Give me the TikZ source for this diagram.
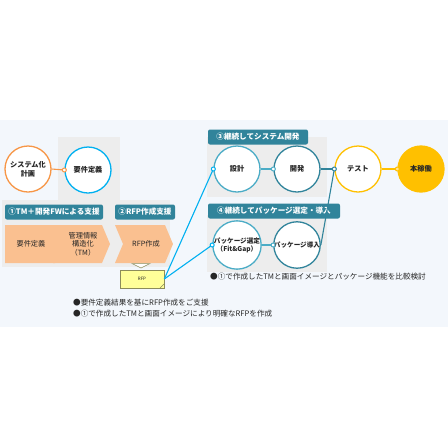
\documentclass[tikz,border=0pt]{standalone}
\usepackage{fontspec}
\setmainfont{Noto Sans CJK JP}
\definecolor{bandbg}{HTML}{F3F7FC}
\definecolor{graybg}{HTML}{EDEDED}
\definecolor{teal}{HTML}{31849B}
\definecolor{aqua}{HTML}{4BACC6}
\definecolor{sky}{HTML}{00B0F0}
\definecolor{orng}{HTML}{F79646}
\definecolor{gold}{HTML}{FFC000}
\definecolor{peach}{HTML}{FAC090}
\definecolor{docfill}{HTML}{FFFF99}
\definecolor{docline}{HTML}{8C8C5A}
\definecolor{txt}{HTML}{262626}
\begin{document}
\begin{tikzpicture}[x=1pt,y=-1pt,
  circ/.style={circle,minimum size=46pt,inner sep=0pt,line width=1.3pt,fill=white,align=center,
    font=\fontsize{7.2}{8.8}\selectfont\bfseries,text=txt},
  lab/.style={rounded corners=2pt,fill=teal,text=white,minimum height=15pt,inner sep=0pt,
    font=\fontsize{7.6}{8.5}\selectfont\bfseries},
  dot/.style={circle,minimum size=4pt,inner sep=0pt,fill=white,line width=1pt},
  conn/.style={line width=1.1pt},
  chev/.style={fill=peach},
  chevtxt/.style={align=center,text=txt,font=\fontsize{7.2}{8.6}\selectfont},
  note/.style={anchor=west,inner sep=0pt,text=txt,font=\fontsize{7.6}{8}\selectfont}]
\useasboundingbox (0,0) rectangle (448,448);
\fill[white] (0,0) rectangle (448,448);
\fill[bandbg] (0,120) rectangle (448,327);
% gray areas
\fill[graybg] (58,137) rectangle (120,205);
\fill[graybg] (2,200) rectangle (170,267);
\fill[graybg] (207,137) rectangle (327,197);
\fill[graybg] (207,215) rectangle (327,272);
% chevrons
\fill[chev] (5,225) -- (55,225) -- (63,244) -- (55,263) -- (5,263) -- cycle;
\fill[chev] (53,225) -- (102,225) -- (110,244) -- (102,263) -- (53,263) -- (61,244) -- cycle;
\fill[chev] (115,225) -- (165,225) -- (173,244) -- (165,263) -- (115,263) -- (123,244) -- cycle;
\node[chevtxt] (c1) at (31,244) {要件定義};
\node[chevtxt] (c2) at (83,244) {管理情報\\構造化\\（TM）};
\node[chevtxt] (c3) at (146,244) {RFP作成};
% labels
\node[lab,minimum width=98pt] (l1) at (54,212) {①TM＋開発FWによる支援};
\node[lab,minimum width=60pt] (l2) at (145,212) {②RFP作成支援};
\node[lab,minimum width=100pt] (l3) at (258,137) {③継続してシステム開発};
\node[lab,minimum width=132pt] (l4) at (274,211) {④継続してパッケージ選定・導入};
% RFP document
\draw[docline,fill=white,line width=0.5pt] (132,263.5) -- (150,263.5) -- (141,268) -- cycle;
\node[draw=docline,fill=docfill,line width=0.6pt,minimum width=44pt,minimum height=18pt,inner sep=0pt,
  font=\fontsize{4.5}{5}\selectfont,text=txt] (rfp) at (142,279) {RFP};
\draw[docline,line width=0.6pt] (160,288) -- (164,284);
% circles
\node[circ,draw=orng] (sys) at (28,169) {システム化\\計画};
\node[circ,draw=sky] (yk) at (88,170) {要件定義};
\node[circ,draw=aqua] (sk) at (237,169) {設計};
\node[circ,draw=teal] (kh) at (297,169) {開発};
\node[circ,draw=gold] (ts) at (358,169) {テスト};
\node[circ,draw=gold,fill=gold] (hk) at (421,169) {本稼働};
\node[circ,draw=aqua,font=\fontsize{6.6}{8}\selectfont\bfseries] (ps) at (237,245) {パッケージ選定\\（Fit\&Gap）};
\node[circ,draw=teal,font=\fontsize{6.6}{8}\selectfont\bfseries] (pi) at (297,245) {パッケージ導入};
% connectors
\draw[conn,orng] (sys.east) -- (yk.west);
\draw[conn,sky] (rfp.east) -- (sk.west);
\draw[conn,sky] (rfp.east) -- (ps.west);
\draw[conn,aqua] (sk.east) -- (kh.west);
\draw[conn,aqua] (ps.east) -- (pi.west);
\draw[conn,teal] (kh.east) -- (ts.west);
\draw[conn,teal] (pi.east) -- (ts.west);
\draw[conn,gold] (ts.east) -- (hk.west);
% dots
\node[dot,draw=orng] (d1) at (yk.west) {};
\node[dot,draw=sky] (d2) at (sk.west) {};
\node[dot,draw=sky] (d3) at (ps.west) {};
\node[dot,draw=aqua] (d4) at (kh.west) {};
\node[dot,draw=aqua] (d5) at (pi.west) {};
\node[dot,draw=teal] (d6) at (ts.west) {};
\node[dot,draw=gold,fill=gold!40] (d7) at (hk.west) {};
% notes
\node[note] (n1) at (73,303) {●要件定義結果を基にRFP作成をご支援};
\node[note] (n2) at (73,314) {●①で作成したTMと画面イメージにより明確なRFPを作成};
\node[note] (n3) at (210,277) {●①で作成したTMと画面イメージとパッケージ機能を比較検討};
\end{tikzpicture}
\end{document}
